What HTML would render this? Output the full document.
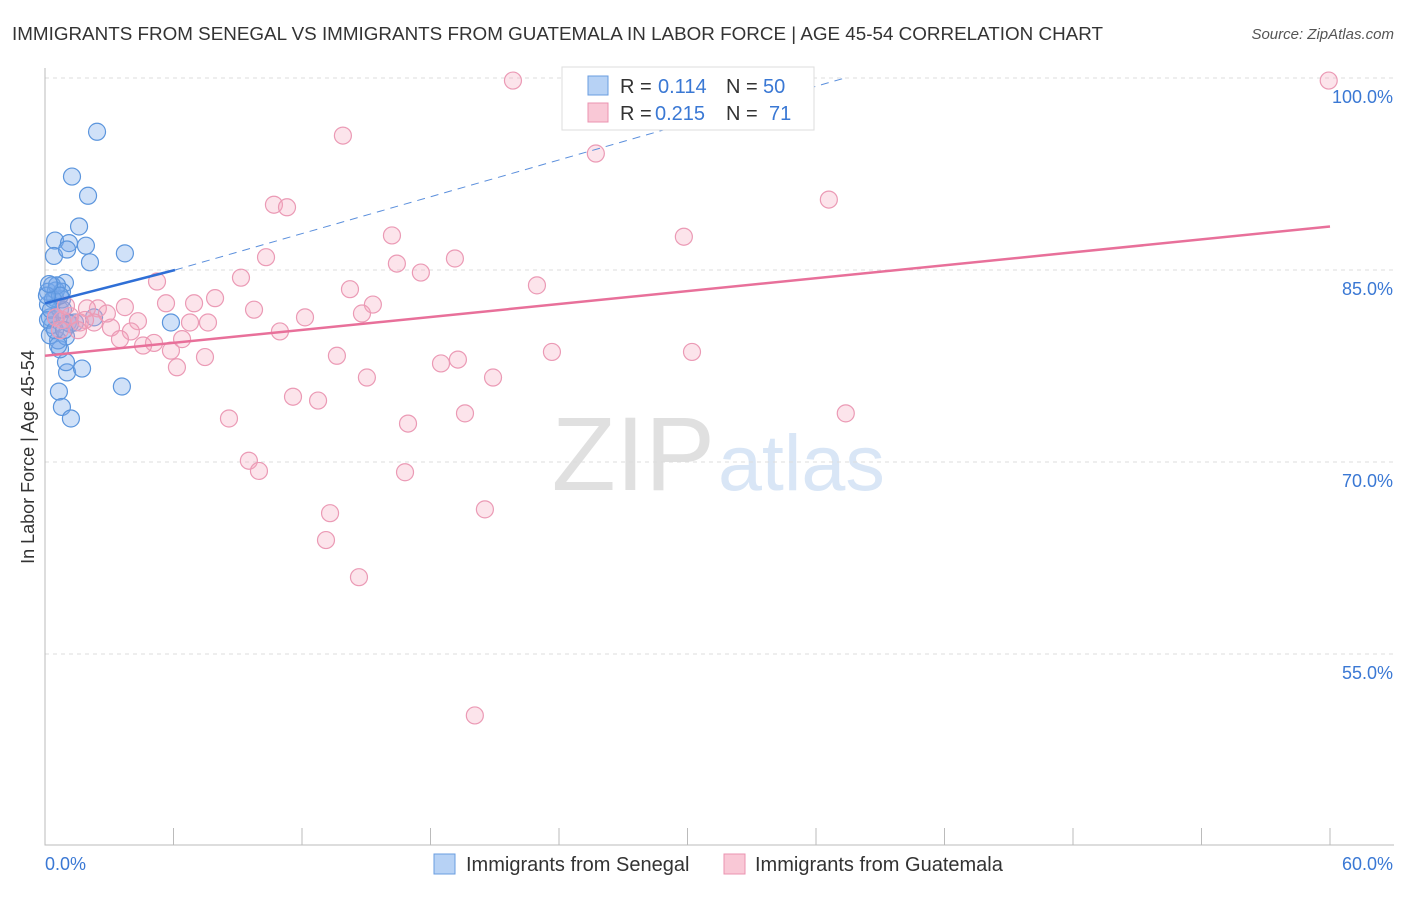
<!DOCTYPE html>
<html><head><meta charset="utf-8"><style>
body{margin:0;background:#fff;font-family:"Liberation Sans",sans-serif}
svg text{font-family:"Liberation Sans",sans-serif}
</style></head><body>
<svg id="c" width="1406" height="892">
<text x="12" y="40" font-size="18" fill="#333" textLength="1091" lengthAdjust="spacingAndGlyphs">IMMIGRANTS FROM SENEGAL VS IMMIGRANTS FROM GUATEMALA IN LABOR FORCE | AGE 45-54 CORRELATION CHART</text>
<text x="1394" y="39" font-size="15" fill="#555" text-anchor="end" font-style="italic">Source: ZipAtlas.com</text>
<text x="715" y="490" font-size="105" fill="#e0e0e0" text-anchor="end" font-family="Liberation Serif">ZIP</text>
<text x="718" y="490" font-size="79" fill="#d9e6f6">atlas</text>
<g id="grid"></g><g id="axes"></g><g id="pts"></g><g id="lines"></g>
<text transform="translate(34,457) rotate(-90)" font-size="18" fill="#333" text-anchor="middle">In Labor Force | Age 45-54</text>
<g>
<rect x="562" y="67" width="252" height="63" fill="#fff" stroke="#ddd"/>
<rect x="588" y="76" width="20" height="19" fill="#b7d2f5" stroke="#6a9de0"/>
<rect x="588" y="103" width="20" height="19" fill="#f9c8d6" stroke="#eb93b0"/>
<text x="620" y="93" font-size="20" fill="#333">R =</text>
<text x="658" y="93" font-size="20" fill="#3a78d4">0.114</text>
<text x="726" y="93" font-size="20" fill="#333">N =</text>
<text x="763" y="93" font-size="20" fill="#3a78d4">50</text>
<text x="620" y="120" font-size="20" fill="#333">R =</text>
<text x="655" y="120" font-size="20" fill="#3a78d4">0.215</text>
<text x="726" y="120" font-size="20" fill="#333">N =</text>
<text x="769" y="120" font-size="20" fill="#3a78d4">71</text>
</g>
<g>
<rect x="434" y="854" width="21" height="20" fill="#b7d2f5" stroke="#6a9de0"/>
<text x="466" y="871" font-size="20" fill="#333">Immigrants from Senegal</text>
<rect x="724" y="854" width="21" height="20" fill="#f9c8d6" stroke="#eb93b0"/>
<text x="755" y="871" font-size="20" fill="#333">Immigrants from Guatemala</text>
</g>
<text x="45" y="870" font-size="18" fill="#3a78d4">0.0%</text>
<text x="1393" y="870" font-size="18" fill="#3a78d4" text-anchor="end">60.0%</text>
</svg>
<script>
const blueX=[2.43,1.26,2.01,1.59,0.47,1.12,1.91,0.42,1.03,2.10,3.73,5.88,3.59,0.65,0.79,1.21,1.03,1.73,0.98,0.70,0.61,0.98,0.33,0.23,0.70,0.14,0.47,0.79,0.93,0.33,0.14,0.51,0.79,0.14,1.07,1.40,2.29,0.23,0.84,0.37,0.56,0.70,0.09,0.19,0.47,1.17,0.61,0.89,0.28,0.51];
const blueY=[95.8,92.3,90.8,88.4,87.3,87.1,86.9,86.1,86.6,85.6,86.3,80.9,75.9,75.5,74.3,73.4,77.0,77.3,77.8,78.8,79.5,79.8,80.7,81.3,81.9,82.3,82.8,82.7,84.0,83.8,83.3,83.4,83.3,81.1,80.9,80.9,81.3,79.9,81.9,82.7,83.8,83.0,83.0,83.9,80.3,80.8,79.1,80.3,81.9,81.3];
const pinkX=[21.85,59.94,13.91,25.72,10.69,11.30,36.60,16.20,29.83,10.32,16.43,19.14,17.55,22.97,14.24,9.15,15.31,14.80,7.94,6.96,5.65,5.23,3.73,9.76,12.14,7.61,6.77,4.34,3.08,4.01,10.97,3.50,5.09,4.58,5.88,6.40,7.47,6.16,13.63,18.49,19.28,23.67,30.21,20.92,15.03,11.58,12.75,8.59,19.61,16.95,37.39,9.52,9.99,16.81,13.31,20.54,13.12,14.66,20.07,2.47,1.96,2.89,2.29,1.63,1.17,0.79,0.51,0.98,1.87,1.54,0.70];
const pinkY=[99.8,99.8,95.5,94.1,90.1,89.9,90.5,87.7,87.6,86.0,85.5,85.9,84.8,83.8,83.5,84.4,82.3,81.6,82.8,82.4,82.4,84.1,82.1,81.9,81.3,80.9,80.9,81.0,80.5,80.2,80.2,79.6,79.3,79.1,78.7,79.6,78.2,77.4,78.3,77.7,78.0,78.6,78.6,76.6,76.6,75.1,74.8,73.4,73.8,73.0,73.8,70.1,69.3,69.2,66.0,66.3,63.9,61.0,50.2,82.0,82.0,81.6,80.9,80.9,81.4,81.1,81.3,82.2,81.1,80.3,80.3];
const yTicks=[100,85,70,55];
const yTickLabels=["100.0%","85.0%","70.0%","55.0%"];
const xTicks=[0,6,12,18,24,30,36,42,48,54,60];
const blueFit=[[0,82.4],[6.07,85.0],[37.35,100]];
const pinkFit=[[0,78.3],[60,88.4]];
const X=v=>45+v/60*1285, Y=v=>78+(100-v)*12.8;
const NS="http://www.w3.org/2000/svg";
function mk(p,t,a){const e=document.createElementNS(NS,t);for(const k in a)e.setAttribute(k,a[k]);document.getElementById(p).appendChild(e);return e;}
yTicks.forEach((t,i)=>{
 const g=mk('grid','line',{x1:45,x2:1394,y1:Y(t),y2:Y(t),stroke:'#ddd','stroke-dasharray':'4,4'});
 
 
 const l=mk('grid','text',{x:1393,y:Y(t)+25,'font-size':18,fill:'#3a78d4','text-anchor':'end'});
 l.textContent=yTickLabels[i];
 
 
});
const ax=mk('axes','path',{d:'M45,68V845H1394',stroke:'#bbb',fill:'none'});


xTicks.forEach(t=>{
 const k=mk('axes','line',{x1:X(t),x2:X(t),y1:828,y2:845,stroke:'#bbb'});
 
 
});
blueX.forEach((x,i)=>{
 const c=mk('pts','circle',{cx:X(x),cy:Y(blueY[i]),r:8.5,fill:'rgba(120,170,235,0.35)',stroke:'#5b95dd','stroke-width':1.2});
 
 
});
pinkX.forEach((x,i)=>{
 const c=mk('pts','circle',{cx:X(x),cy:Y(pinkY[i]),r:8.5,fill:'rgba(245,165,190,0.3)',stroke:'#eb9ab5','stroke-width':1.2});
 
 
});
let b=mk('lines','line',{x1:X(blueFit[0][0]),y1:Y(blueFit[0][1]),x2:X(blueFit[1][0]),y2:Y(blueFit[1][1]),stroke:'#2f6fd6','stroke-width':2.5});


let bd=mk('lines','line',{x1:X(blueFit[1][0]),y1:Y(blueFit[1][1]),x2:X(blueFit[2][0]),y2:Y(blueFit[2][1]),stroke:'#5b8fdc','stroke-width':1,'stroke-dasharray':'8,6'});


let p=mk('lines','line',{x1:X(pinkFit[0][0]),y1:Y(pinkFit[0][1]),x2:X(pinkFit[1][0]),y2:Y(pinkFit[1][1]),stroke:'#e8709a','stroke-width':2.5});


</script>
</body></html>
